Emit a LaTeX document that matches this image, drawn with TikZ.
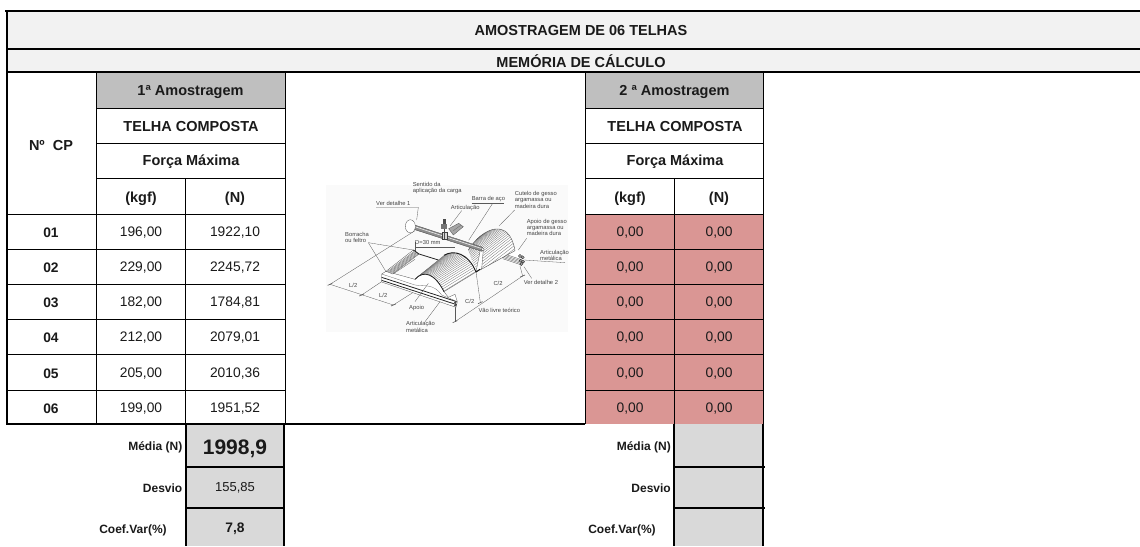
\documentclass[tikz,border=0pt]{standalone}
\usepackage{fontspec}
\setmainfont{Liberation Sans}
\usetikzlibrary{calc}
\definecolor{band}{HTML}{F2F2F2}
\definecolor{hdr}{HTML}{BFBFBF}
\definecolor{salmon}{HTML}{DA9694}
\definecolor{stat}{HTML}{D9D9D9}
\definecolor{ink}{HTML}{1A1A1A}
\definecolor{lbl}{HTML}{444444}
\newcommand{\bezval}[5]{(1-#5)^3*(#1)+3*(1-#5)^2*#5*(#2)+3*(1-#5)*#5^2*(#3)+#5^3*(#4)}
\newcommand{\Apt}[1]{({\bezval{345}{372}{405}{432}{#1}},{\bezval{328}{298}{312}{365}{#1}})}
\newcommand{\Bpt}[1]{({\bezval{432}{462}{505}{528}{#1}},{\bezval{256}{238}{250}{306}{#1}})}
\newcommand{\Cpt}[1]{({\bezval{505}{548}{628}{645}{#1}},{\bezval{240}{172}{140}{242}{#1}})}
\newcommand{\Dpt}[1]{({\bezval{505}{548}{628}{645}{#1}-110},{\bezval{240}{172}{140}{242}{#1}+85})}
\tikzset{
  thickline/.style={line width=2pt,black},
  thinline/.style={line width=0.9pt,black},
  hb/.style={font=\fontsize{14.5}{16}\selectfont\bfseries,text=ink,inner sep=0pt,yshift=-1pt},
  val/.style={font=\fontsize{13.8}{16}\selectfont,text=ink,inner sep=0pt,yshift=-1pt},
  vb/.style={font=\fontsize{13.8}{16}\selectfont\bfseries,text=ink,inner sep=0pt,yshift=-1pt},
  sb/.style={font=\fontsize{12}{14}\selectfont\bfseries,text=ink,inner sep=0pt,yshift=-1pt},
  lab/.style={font=\fontsize{5.8}{6.3}\selectfont,text=lbl,inner sep=0pt,anchor=west,align=left},
  lead/.style={line width=0.3pt,black!65},
  hatch/.style={line width=0.3pt,black!55},
}
\begin{document}
\begin{tikzpicture}[x=1pt,y=-1pt]
\useasboundingbox (0,0) rectangle (1140,546);
\fill[white] (0,0) rectangle (1140,546);
% fills
\fill[band] (6,11) rectangle (1140,72);
\fill[hdr] (96.5,72) rectangle (285,108);
\fill[hdr] (585,72) rectangle (763,108);
\fill[salmon] (585,214) rectangle (763,424);
\fill[stat] (185.5,424) rectangle (284,546);
\fill[stat] (674,424) rectangle (762.5,546);
% picture background
\fill[black!2] (326,185) rectangle (568,332);
% thin grid
\foreach \yy in {108,143.5,178}{
  \draw[thinline] (96.5,\yy) -- (286,\yy);
  \draw[thinline] (585,\yy) -- (763,\yy);
}
\foreach \yy in {214,249,284,319,354,390}{
  \draw[thinline] (6,\yy) -- (286,\yy);
  \draw[thinline] (585,\yy) -- (763,\yy);
}
\draw[thinline] (96.5,72) -- (96.5,424);
\draw[thinline] (285,72) -- (285,424);
\draw[thinline] (185.5,178) -- (185.5,424);
\draw[thinline] (585,72) -- (585,424);
\draw[thinline] (674,178) -- (674,424);
\draw[thinline] (763,72) -- (763,424);
% thick grid
\draw[thickline] (5,11) -- (1140,11);
\draw[thickline] (6,48.5) -- (1140,48.5);
\draw[thickline] (6,72) -- (1140,72);
\draw[thickline] (6.5,10) -- (6.5,425);
\draw[thickline] (6,424) -- (585,424);
\draw[thickline] (185.5,424) -- (185.5,546);
\draw[thickline] (284,424) -- (284,546);
\draw[thickline] (185.5,467) -- (285,467);
\draw[thickline] (185.5,507.5) -- (285,507.5);
\draw[thickline] (674,424) -- (674,546);
\draw[thickline] (762.5,424) -- (762.5,546);
\draw[thickline] (674,467) -- (765,467);
\draw[thickline] (674,507.5) -- (765,507.5);
% headings
\node[hb] (title) at (581,30) {AMOSTRAGEM DE 06 TELHAS};
\node[hb] (memo) at (581,60.5) {MEMÓRIA DE CÁLCULO};
\node[hb] (cp) at (51,145) {Nº\ \ CP};
\node[hb] (a1) at (190.5,91) {1ª Amostragem};
\node[hb] (t1) at (191,126) {TELHA COMPOSTA};
\node[hb] (f1) at (191,161) {Força Máxima};
\node[hb] (k1) at (141,198) {(kgf)};
\node[hb] (n1) at (235,198) {(N)};
\node[hb] (a2) at (674.5,91) {2 ª Amostragem};
\node[hb] (t2) at (675,126) {TELHA COMPOSTA};
\node[hb] (f2) at (675,161) {Força Máxima};
\node[hb] (k2) at (630,198) {(kgf)};
\node[hb] (n2) at (719,198) {(N)};
% rows
\foreach \i/\yy/\c/\kg/\nw in {1/232/01/{196,00}/{1922,10}, 2/267/02/{229,00}/{2245,72}, 3/302/03/{182,00}/{1784,81}, 4/337/04/{212,00}/{2079,01}, 5/372.5/05/{205,00}/{2010,36}, 6/408/06/{199,00}/{1951,52}}{
  \node[vb] (c\i) at (51,\yy) {\c};
  \node[val] (kg\i) at (141,\yy) {\kg};
  \node[val] (nw\i) at (235,\yy) {\nw};
  \node[val] (kgb\i) at (630,\yy) {0,00};
  \node[val] (nwb\i) at (719,\yy) {0,00};
}
% statistics
\node[sb,anchor=east] (m1) at (182.5,446) {Média (N)};
\node[sb,anchor=east] (d1) at (182.5,487) {Desvio};
\node[sb] (v1) at (133,529) {Coef.Var(\%)};
\node[font=\fontsize{21}{24}\selectfont\bfseries,text=ink,inner sep=0pt] (mv) at (235,448.5) {1998,9};
\node[font=\fontsize{13}{15}\selectfont,text=ink,inner sep=0pt] (dv) at (235,488) {155,85};
\node[vb] (vv) at (235,528) {7,8};
\node[sb,anchor=east] (m2) at (671,446) {Média (N)};
\node[sb,anchor=east] (d2) at (671,487) {Desvio};
\node[sb] (v2) at (622,529) {Coef.Var(\%)};
% ---------- illustration, in units of 1/3 px
\begin{scope}[shift={(300,170)},x=0.33333pt,y=-0.33333pt]
% dimension lines
\draw[lead] (90,343) -- (280,405);
\draw[lead] (90,343) -- (345,182);
\draw[lead] (185,375) -- (345,268);
\draw[lead] (280,405) -- (390,335);
\draw[lead] (465,455) -- (668,318);
\draw[lead] (466,455) -- (466,405);
\draw[lead] (668,318) -- (660,288);
\draw[lead] (541,398) -- (528,305);
\draw[lead] (345,215) -- (345,245);
\draw[lead] (345,230) -- (465,230);
\foreach \p in {(90,343),(185,375),(280,405),(465,455),(668,318),(541,398)}
  \draw[lead,line width=0.6pt] \p ++(-7,3) -- ++(14,-6);
% rear support (behind the far tile)
\fill[white] (600,248) -- (650,238) -- (672,258) -- (665,285) -- (610,262) -- cycle;
\foreach \o in {0,4,...,16}{
  \draw[line width=0.3pt,black!70] (608,250+\o) -- (662,268+\o);
}
\foreach \p in {(660,258),(668,262),(662,272),(669,275),(664,282)}
  \draw[line width=0.4pt,black!80,fill=black!35] \p circle[radius=1.6pt];
% far tile body
\fill[white] (505,240) .. controls (548,172) and (628,140) .. (645,242) -- (540,300) -- (528,306) -- cycle;
\begin{scope}
\clip (505,240) .. controls (548,172) and (628,140) .. (645,242) -- (540,300) -- (528,306) -- cycle;
\foreach \t in {0.02,0.05,...,1}{
  \draw[hatch] \Cpt{\t} -- \Dpt{\t};
}
\end{scope}
\draw[line width=0.4pt,black!70] (505,240) .. controls (548,172) and (628,140) .. (645,242) -- (540,300);
% near tile body
\fill[white] (345,328) .. controls (372,298) and (405,312) .. (432,365) -- (528,306) .. controls (505,250) and (462,238) .. (432,256) -- cycle;
\foreach \t in {0.03,0.07,...,1}{
  \draw[hatch] \Apt{\t} -- \Bpt{\t};
}
\draw[line width=0.3pt,black!70] (432,365) -- (528,306);
\fill[white,draw=black!70,line width=0.3pt] (528,306) -- (541,240) -- (550,238) -- (545,296) -- cycle;
% front plate
\fill[white,draw=black!70,line width=0.3pt]
  (245,312) -- (258,304) -- (345,328) .. controls (372,298) and (405,312) .. (432,365)
  -- (445,382) -- (465,373) -- (472,395) -- (468,412) -- (245,336) -- cycle;
\draw[line width=0.8pt,black!85] (345,328) .. controls (372,298) and (405,312) .. (432,365);
\draw[line width=0.8pt,black!85] (245,322) -- (470,395);
\draw[line width=0.8pt,black!85] (245,331) -- (470,404);
\draw[line width=0.3pt,black!60] (245,312) -- (345,345) .. controls (375,350) and (400,340) .. (425,375) -- (465,392);
\foreach \p in {(466,398),(466,406)}
  \fill[black!70] \p circle[radius=1.3pt];
% rubber strip
\fill[white,draw=black!70,line width=0.3pt] (258,304) -- (340,240) -- (357,252) -- (278,312) -- cycle;
\foreach \o in {0,3,...,15}{
  \draw[line width=0.3pt,black!65] (262+\o,305+\o/3) -- (342+\o/1.2,244+\o/2);
}
\draw[line width=0.8pt,black!85] (340,240) -- (357,252) -- (415,270);
% middle arch, heavy
\draw[line width=0.9pt,black!90] (432,256) .. controls (462,238) and (505,250) .. (528,306);
\draw[line width=1pt,black!90] (528,306) -- (540,298);
% load bar
\fill[black!45,draw=black!75,line width=0.3pt] (338,163) -- (548,232) -- (546,244) -- (335,176) -- cycle;
\draw[white,line width=0.5pt] (338,168) -- (546,236);
\draw[lead,fill=white,line width=0.4pt] (548,238) circle[radius=1.6pt];
\draw[line width=0.3pt,black!70,fill=white] (331,169) circle[x radius=5pt,y radius=6.6pt];
% upper articulation
\fill[black!35,draw=black!70,line width=0.3pt] (446,176) -- (476,160) -- (490,170) -- (460,195) -- cycle;
\draw[black!60,line width=0.3pt] (460,182) -- (482,166);
% bolt
\fill[black!70] (428,148) rectangle (438,162);
\fill[black!55] (424,162) rectangle (442,178);
\fill[black!15,draw=black!75,line width=0.3pt] (426,186) rectangle (441,206);
\draw[black!70,line width=0.5pt] (433,178) -- (433,206);
% leaders
\draw[lead] (228,112) -- (355,112) -- (350,150);
\draw[lead] (515,100) -- (612,100);
\draw[lead] (578,100) -- (506,211);
\draw[lead] (485,122) -- (450,168);
\draw[lead] (644,120) -- (597,168);
\draw[lead] (680,205) -- (655,240);
\draw[lead] (672,270) -- (795,278);
\draw[lead] (205,218) -- (340,240);
\draw[lead] (205,218) -- (258,305);
\draw[lead] (385,340) -- (345,395);
\draw[lead] (420,395) -- (375,455);
\draw[lead] (672,290) -- (695,325);
% labels
\node[lab] (l1) at (338,54) {Sentido da\\aplicação da carga};
\node[lab] (l2) at (228,99) {Ver detalhe 1};
\node[lab] (l3) at (515,87) {Barra de aço};
\node[lab] (l4) at (452,113) {Articulação};
\node[lab] (l5) at (644,89) {Cutelo de gesso\\argamassa ou\\madeira dura};
\node[lab] (l6) at (680,172) {Apoio de gesso\\argamassa ou\\madeira dura};
\node[lab] (l7) at (720,257) {Articulação\\metálica};
\node[lab] (l8) at (135,203) {Borracha\\ou feltro};
\node[lab] (l9) at (345,217) {D=30 mm};
\node[lab] (l10) at (147,345) {L/2};
\node[lab] (l11) at (237,375) {L/2};
\node[lab] (l12) at (580,340) {C/2};
\node[lab] (l13) at (495,393) {C/2};
\node[lab] (l14) at (671,338) {Ver detalhe 2};
\node[lab] (l15) at (535,421) {Vão livre teórico};
\node[lab] (l16) at (327,415) {Apoio};
\node[lab] (l17) at (318,471) {Articulação\\metálica};
\end{scope}
\end{tikzpicture}
\end{document}
